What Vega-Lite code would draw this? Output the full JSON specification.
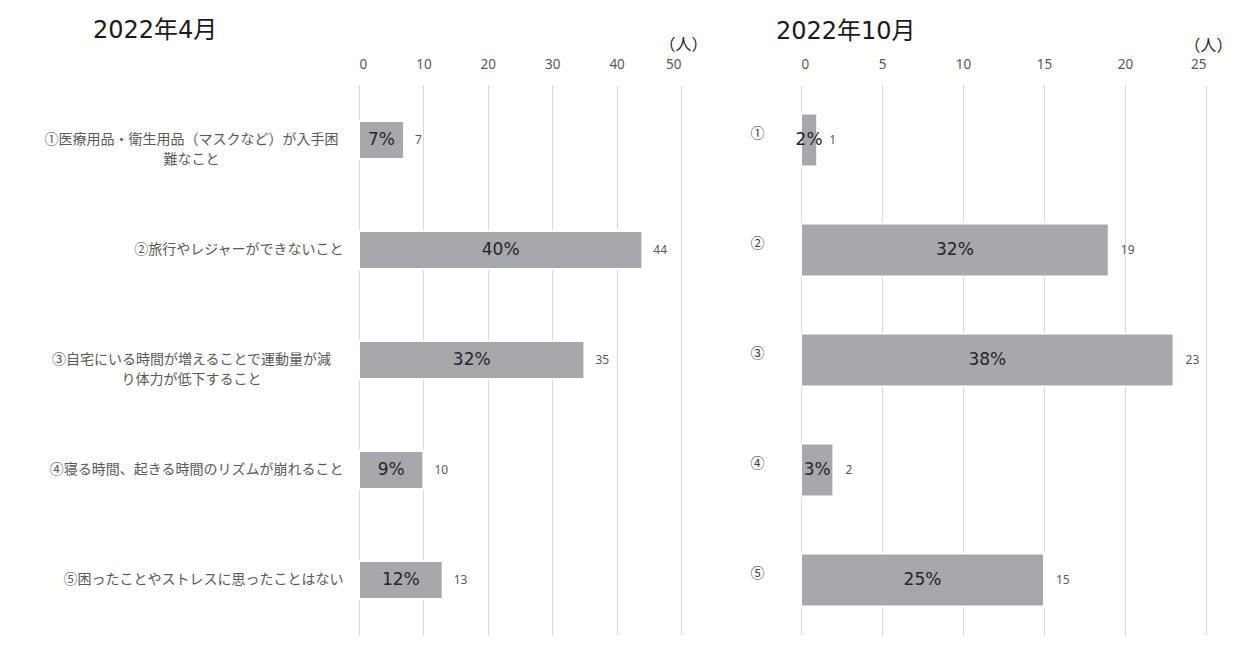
{
  "$schema": "https://vega.github.io/schema/vega-lite/v6.json",
  "background": "white",
  "padding": {"left": 44, "top": 19, "right": 10, "bottom": 10},
  "spacing": 42,
  "config": {
    "view": {"stroke": null},
    "font": "Noto Sans CJK JP",
    "title": {"fontWeight": "normal", "color": "#1a1a1a"}
  },
  "datasets": {
    "apr": [
      {"item": "①医療用品・衛生用品（マスクなど）が入手困|難なこと", "count": 7, "pct": "7%"},
      {"item": "②旅行やレジャーができないこと", "count": 44, "pct": "40%"},
      {"item": "③自宅にいる時間が増えることで運動量が減|り体力が低下すること", "count": 35, "pct": "32%"},
      {"item": "④寝る時間、起きる時間のリズムが崩れること", "count": 10, "pct": "9%"},
      {"item": "⑤困ったことやストレスに思ったことはない", "count": 13, "pct": "12%"}
    ],
    "oct": [
      {"item": "①", "count": 1, "pct": "2%"},
      {"item": "②", "count": 19, "pct": "32%"},
      {"item": "③", "count": 23, "pct": "38%"},
      {"item": "④", "count": 2, "pct": "3%"},
      {"item": "⑤", "count": 15, "pct": "25%"}
    ]
  },
  "hconcat": [
    {
      "width": 322,
      "height": 550,
      "data": {"name": "apr"},
      "title": {"text": "2022年4月", "anchor": "start", "frame": "group", "dx": -266, "fontSize": 24, "font": "DejaVu Sans, Noto Sans CJK JP", "offset": -7},
      "encoding": {
        "y": {
          "field": "item", "type": "nominal", "sort": null,
          "scale": {"paddingInner": 0.6545, "paddingOuter": 0.327},
          "axis": {
            "title": null, "domain": false, "ticks": false, "labelLimit": 0,
            "labelExpr": "split(datum.label, '|')",
            "labelFontSize": 14, "labelColor": "#595959", "labelLineHeight": 20,
            "labelAlign": {"condition": {"test": "indexof(datum.value, '|') >= 0", "value": "center"}, "value": "right"},
            "labelPadding": {"condition": {"test": "indexof(datum.value, '|') >= 0", "value": 168}, "value": 16}
          }
        }
      },
      "layer": [
        {
          "mark": {"type": "bar", "color": "#a7a8ab", "stroke": "white", "strokeWidth": 2},
          "encoding": {
            "x": {
              "field": "count", "type": "quantitative",
              "scale": {"domain": [0, 50], "nice": false},
              "axis": {
                "orient": "top", "values": [0, 10, 20, 30, 40, 50], "grid": true,
                "gridColor": "#d9d9d9", "gridWidth": 1, "domain": false, "ticks": false,
                "labelPadding": 14, "labelFontSize": 13.5, "labelColor": "#595959", "labelFont": "Noto Sans",
                "title": "（人）", "titleX": 324, "titleY": -41, "titleFontSize": 16, "titleFontWeight": "normal",
                "titleColor": "#262626", "titleAlign": "center", "titleBaseline": "middle", "titleAngle": 0
              }
            }
          }
        },
        {
          "mark": {"type": "text", "fontSize": 17, "font": "DejaVu Sans", "color": "#262626", "align": "center", "baseline": "middle"},
          "encoding": {
            "x": {"field": "count", "type": "quantitative", "scale": {"domain": [0, 100], "nice": false}, "axis": null},
            "text": {"field": "pct", "type": "nominal"}
          }
        },
        {
          "mark": {"type": "text", "fontSize": 12, "font": "Noto Sans", "color": "#595959", "align": "left", "baseline": "middle", "dx": 11},
          "encoding": {
            "x": {"field": "count", "type": "quantitative", "scale": {"domain": [0, 50], "nice": false}, "axis": null},
            "text": {"field": "count", "type": "quantitative"}
          }
        }
      ],
      "resolve": {"scale": {"x": "independent"}, "axis": {"x": "independent"}}
    },
    {
      "width": 405,
      "height": 550,
      "data": {"name": "oct"},
      "title": {"text": "2022年10月", "anchor": "start", "frame": "group", "dx": -25, "fontSize": 24, "font": "DejaVu Sans, Noto Sans CJK JP", "offset": -7},
      "encoding": {
        "y": {
          "field": "item", "type": "nominal", "sort": null,
          "scale": {"paddingInner": 0.518, "paddingOuter": 0.259},
          "axis": {
            "title": null, "domain": false, "ticks": false,
            "labelFontSize": 14, "labelColor": "#404040",
            "labelAlign": "center", "labelPadding": 44, "labelOffset": -6
          }
        }
      },
      "layer": [
        {
          "mark": {"type": "bar", "color": "#a7a8ab", "stroke": "white", "strokeWidth": 2},
          "encoding": {
            "x": {
              "field": "count", "type": "quantitative",
              "scale": {"domain": [0, 25], "nice": false},
              "axis": {
                "orient": "top", "values": [0, 5, 10, 15, 20, 25], "grid": true,
                "gridColor": "#d9d9d9", "gridWidth": 1, "domain": false, "ticks": false,
                "labelPadding": 14, "labelFontSize": 13.5, "labelColor": "#595959", "labelFont": "Noto Sans",
                "title": "（人）", "titleX": 407, "titleY": -40, "titleFontSize": 16, "titleFontWeight": "normal",
                "titleColor": "#262626", "titleAlign": "center", "titleBaseline": "middle", "titleAngle": 0
              }
            }
          }
        },
        {
          "mark": {"type": "text", "fontSize": 17, "font": "DejaVu Sans", "color": "#262626", "align": "center", "baseline": "middle"},
          "encoding": {
            "x": {"field": "count", "type": "quantitative", "scale": {"domain": [0, 50], "nice": false}, "axis": null},
            "text": {"field": "pct", "type": "nominal"}
          }
        },
        {
          "mark": {"type": "text", "fontSize": 12, "font": "Noto Sans", "color": "#595959", "align": "left", "baseline": "middle", "dx": 12},
          "encoding": {
            "x": {"field": "count", "type": "quantitative", "scale": {"domain": [0, 25], "nice": false}, "axis": null},
            "text": {"field": "count", "type": "quantitative"}
          }
        }
      ],
      "resolve": {"scale": {"x": "independent"}, "axis": {"x": "independent"}}
    }
  ]
}
